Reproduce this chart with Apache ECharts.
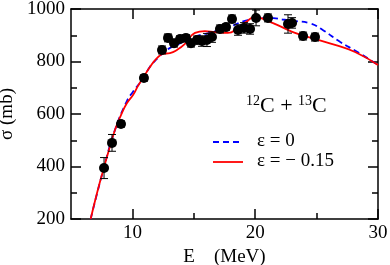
<!DOCTYPE html>
<html><head><meta charset="utf-8">
<script src="https://cdn.jsdelivr.net/npm/echarts@6/dist/echarts.min.js"></script>
<style>html,body{margin:0;padding:0;background:#fff}#c{width:390px;height:265px}</style>
</head><body><div id="c"></div>
<script>
// Experimental data
const expE     = [7.69, 8.34, 9.07, 10.94, 12.41, 12.90, 13.39, 13.88, 14.36, 14.77, 15.26, 15.67, 16.07, 16.48, 17.13, 17.62, 18.11, 18.60, 19.09, 19.58, 20.07, 21.04, 22.67, 23.00, 23.90, 24.87];
const expSigma = [394, 490, 562, 737, 844, 890, 870, 886, 890, 870, 882, 878, 882, 893, 924, 931, 962, 920, 928, 924, 966, 966, 943, 947, 897, 893];
const expErr   = [40, 32, 12, 12, 15, 15, 15, 12, 12, 15, 15, 20, 25, 20, 15, 12, 15, 20, 20, 20, 30, 15, 35, 20, 15, 15];

// epsilon = 0 (blue dashed)
const eps0E = [6.6, 7.63, 8.58, 9.56, 10.05, 10.86, 11.43, 12.0, 12.8, 13.9, 15.1, 16.2, 17.8, 19.4, 20.5, 21.5, 22.2, 23.1, 24.5, 25.5, 26.9, 28.3, 30.0];
const eps0S = [200, 387, 539, 650, 685, 735, 780, 810, 844, 870, 895, 908, 931, 958, 965, 965, 960, 955, 945, 920, 875, 837, 787];

// epsilon = -0.15 (red solid)
const eps15E = [6.6, 7.12, 7.63, 8.09, 8.58, 9.07, 9.56, 10.05, 10.46, 10.86, 11.43, 12.0, 12.49, 13.06, 13.63, 14.28, 15.1, 15.9, 16.73, 17.78, 18.6, 19.25, 19.98, 21.04, 22.18, 23.24, 24.87, 26.5, 28.13, 30.0];
const eps15S = [200, 299, 387, 463, 539, 596, 642, 672, 707, 737, 779, 813, 829, 832, 844, 867, 909, 916, 912, 909, 928, 950, 970, 954, 931, 909, 886, 863, 836, 787];

const xMajor = [10, 20, 30];
const xMinor = [15, 25];
const legendLabels = ['ε = 0', 'ε = − 0.15'];

const FONT = 'Liberation Serif';
const chart = echarts.init(document.getElementById('c'));

function zip(a, b) { return a.map((v, i) => [v, b[i]]); }
const axisCol = '#000';
function xAx(pos, ticks, len, labels, extra) {
  return Object.assign({
    type: 'value', position: pos, min: 5, max: 30, gridIndex: 0,
    axisLine: { show: true, onZero: false, lineStyle: { color: axisCol, width: 1.5 } },
    splitLine: { show: false },
    axisTick: { show: true, inside: true, length: len, customValues: ticks, lineStyle: { color: axisCol, width: 1.5 } },
    axisLabel: labels ? { show: true, customValues: ticks, formatter: v => String(v), fontFamily: FONT, fontSize: 19, color: '#000', margin: 5 } : { show: false }
  }, extra || {});
}
function yAx(pos, labels, extra) {
  return Object.assign({
    type: 'value', position: pos, min: 200, max: 1000, interval: 200,
    axisLine: { show: true, onZero: false, lineStyle: { color: axisCol, width: 1.5 } },
    splitLine: { show: false },
    axisTick: { show: true, inside: true, length: 10, lineStyle: { color: axisCol, width: 1.5 } },
    minorTick: { show: true, splitNumber: 2, length: 6, lineStyle: { color: axisCol, width: 1.5 } },
    axisLabel: labels ? { show: true, formatter: v => String(v), fontFamily: FONT, fontSize: 19, color: '#000', margin: 6 } : { show: false }
  }, extra || {});
}

chart.setOption({
  animation: false,
  grid: { left: 71, right: 12, top: 9, bottom: 46, containLabel: false, outerBoundsMode: 'none' },
  xAxis: [
    xAx('bottom', xMajor, 10, true, { name: 'E    (MeV)', nameLocation: 'middle', nameGap: 21, nameTextStyle: { fontFamily: FONT, fontSize: 19, color: '#000' } }),
    xAx('bottom', xMinor, 6, false, { axisLine: { show: false } }),
    xAx('top', xMajor, 10, false),
    xAx('top', xMinor, 6, false, { axisLine: { show: false } })
  ],
  yAxis: [
    yAx('left', true, { name: 'σ (mb)', nameLocation: 'middle', nameGap: 47, nameRotate: 90, nameTextStyle: { fontFamily: FONT, fontSize: 19, color: '#000' } }),
    yAx('right', false)
  ],
  series: [
    { type: 'line', name: legendLabels[0], data: zip(eps0E, eps0S), smooth: true, showSymbol: false, z: 3,
      lineStyle: { color: '#0000ff', width: 1.8, type: [6, 4] } },
    { type: 'line', name: legendLabels[1], data: zip(eps15E, eps15S), smooth: true, showSymbol: false, z: 4,
      lineStyle: { color: '#ff0000', width: 1.8 } },
    { type: 'custom', data: expE.map((e, i) => [e, expSigma[i], expErr[i]]), z: 5,
      renderItem: function (params, api) {
        const x = api.value(0), y = api.value(1), e = api.value(2);
        const t = api.coord([x, y + e]), b = api.coord([x, y - e]);
        const hw = 4;
        const st = { stroke: '#000', lineWidth: 1 };
        return { type: 'group', children: [
          { type: 'line', shape: { x1: t[0], y1: t[1], x2: b[0], y2: b[1] }, style: st },
          { type: 'line', shape: { x1: t[0] - hw, y1: t[1], x2: t[0] + hw, y2: t[1] }, style: st },
          { type: 'line', shape: { x1: b[0] - hw, y1: b[1], x2: b[0] + hw, y2: b[1] }, style: st }
        ] };
      } },
    { type: 'scatter', data: zip(expE, expSigma), symbol: 'circle', symbolSize: 10, z: 6,
      itemStyle: { color: '#000', opacity: 1 } }
  ],
  graphic: [
    { type: 'text', left: 246, top: 94, style: {
        text: '{s|12}{c|C + }{s|13}{c|C}', fill: '#000',
        rich: { s: { fontFamily: FONT, fontSize: 14, verticalAlign: 'top', lineHeight: 24, padding: [0, 0, 8, 0] },
                c: { fontFamily: FONT, fontSize: 22, lineHeight: 24 } } } },
    { type: 'line', shape: { x1: 213, y1: 142, x2: 243, y2: 142 }, style: { stroke: '#0000ff', lineWidth: 1.8, lineDash: [6, 4] } },
    { type: 'text', left: 257, top: 132, style: { text: legendLabels[0], fontFamily: FONT, fontSize: 19, fill: '#000' } },
    { type: 'line', shape: { x1: 213, y1: 162, x2: 243, y2: 162 }, style: { stroke: '#ff0000', lineWidth: 1.8 } },
    { type: 'text', left: 257, top: 152, style: { text: legendLabels[1], fontFamily: FONT, fontSize: 19, fill: '#000' } }
  ]
});
</script>
</body></html>
